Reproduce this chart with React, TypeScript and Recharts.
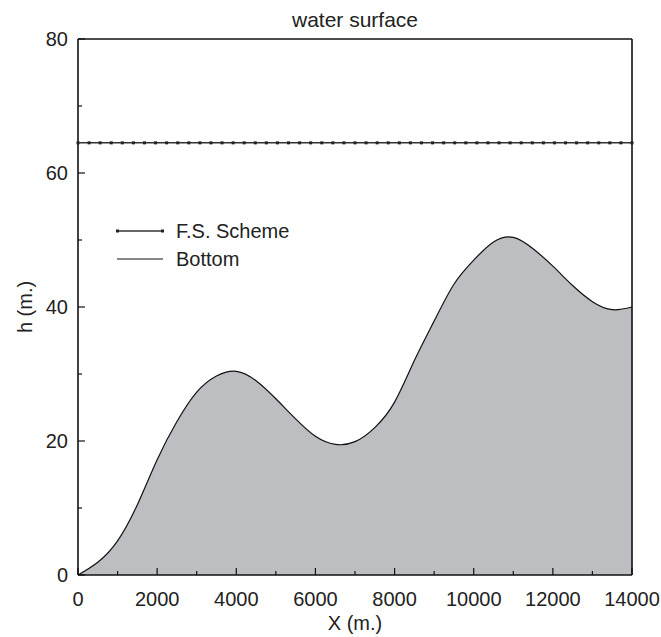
import React from 'react';
import { ComposedChart, Area, Line, XAxis, YAxis, Legend, Label } from 'recharts';

const FONT = '"Liberation Sans", Arial, Helvetica, sans-serif';
const INK = '#222';

// free surface computed by the scheme (one node every 280 m)
const surfaceX = [
  0, 280, 560, 840, 1120, 1400, 1680, 1960, 2240, 2520, 2800, 3080, 3360, 3640, 3920, 4200, 4480,
  4760, 5040, 5320, 5600, 5880, 6160, 6440, 6720, 7000, 7280, 7560, 7840, 8120, 8400, 8680, 8960,
  9240, 9520, 9800, 10080, 10360, 10640, 10920, 11200, 11480, 11760, 12040, 12320, 12600, 12880,
  13160, 13440, 13720, 14000,
];
const surfaceH = [
  64.5, 64.5, 64.5, 64.5, 64.5, 64.5, 64.5, 64.5, 64.5, 64.5, 64.5, 64.5, 64.5, 64.5, 64.5, 64.5, 64.5,
  64.5, 64.5, 64.5, 64.5, 64.5, 64.5, 64.5, 64.5, 64.5, 64.5, 64.5, 64.5, 64.5, 64.5, 64.5, 64.5,
  64.5, 64.5, 64.5, 64.5, 64.5, 64.5, 64.5, 64.5, 64.5, 64.5, 64.5, 64.5, 64.5, 64.5,
  64.5, 64.5, 64.5, 64.5,
];

// bed profile
const bottomX = [
  0, 500, 1000, 1500, 2000, 2500, 3000, 3500, 4000, 4500, 5000, 5500, 6000, 6500, 7000,
  7500, 8000, 8500, 9000, 9500, 10000, 10500, 11000, 11500, 12000, 12500, 13000, 13500, 14000,
];
const bottomH = [
  0, 1.9, 5.1, 10.5, 17.2, 22.9, 27.3, 29.7, 30.4, 29.0, 26.3, 23.3, 20.7, 19.5, 19.9,
  22.0, 25.8, 32.0, 37.9, 43.4, 47.0, 49.7, 50.4, 48.7, 46.1, 43.2, 40.8, 39.6, 40.0,
];

const xTicks = [0, 1000, 2000, 3000, 4000, 5000, 6000, 7000, 8000, 9000, 10000, 11000, 12000, 13000, 14000];
const yTicks = [0, 10, 20, 30, 40, 50, 60, 70, 80];

const surfaceData = surfaceX.map((x, i) => ({ x, h: surfaceH[i] }));
const bottomData = bottomX.map((x, i) => ({ x, h: bottomH[i] }));

type Side = 'bottom' | 'top' | 'left' | 'right';

// inward ticks, long for labelled values, short for the minor ones
const makeTick = (side: Side, step: number, withLabel: boolean) => (props: any) => {
  const { x, y, payload } = props;
  const v = payload.value;
  const major = v % step === 0;
  const len = major ? 7 : 4;
  let line;
  let label = null;
  if (side === 'bottom') {
    line = <line x1={x} y1={y} x2={x} y2={y - len} stroke="#111" strokeWidth={1.2} />;
    if (withLabel && major)
      label = <text x={x} y={y + 31} textAnchor="middle" fontSize={20} fontFamily={FONT} fill={INK}>{v}</text>;
  } else if (side === 'top') {
    line = <line x1={x} y1={y} x2={x} y2={y + len} stroke="#111" strokeWidth={1.2} />;
  } else if (side === 'left') {
    line = <line x1={x} y1={y} x2={x + len} y2={y} stroke="#111" strokeWidth={1.2} />;
    if (withLabel && major)
      label = <text x={x - 10} y={y} dy="0.36em" textAnchor="end" fontSize={20} fontFamily={FONT} fill={INK}>{v}</text>;
  } else {
    line = <line x1={x} y1={y} x2={x - len} y2={y} stroke="#111" strokeWidth={1.2} />;
  }
  return <g>{line}{label}</g>;
};

const SurfaceDot = (props: any) => {
  const { cx, cy } = props;
  return <rect x={cx - 1.5} y={cy - 1.5} width={3} height={3} fill="#222" />;
};

const renderLegend = () => (
  <div style={{ fontFamily: FONT, fontSize: 20, color: INK, lineHeight: '28px' }}>
    <div style={{ display: 'flex', alignItems: 'center', height: 28 }}>
      <svg width={48} height={8} style={{ display: 'block' }}>
        <line x1={1} y1={4} x2={47} y2={4} stroke="#333" strokeWidth={1.5} />
        <rect x={0} y={2.5} width={3} height={3} fill="#222" />
        <rect x={45} y={2.5} width={3} height={3} fill="#222" />
      </svg>
      <span style={{ marginLeft: 12 }}>F.S. Scheme</span>
    </div>
    <div style={{ display: 'flex', alignItems: 'center', height: 28 }}>
      <svg width={48} height={8} style={{ display: 'block' }}>
        <line x1={1} y1={4} x2={47} y2={4} stroke="#111" strokeWidth={1.2} />
      </svg>
      <span style={{ marginLeft: 12 }}>Bottom</span>
    </div>
  </div>
);

const axisStroke = { stroke: '#111', strokeWidth: 1.6 };

export default function App() {
  return (
    <div style={{ position: 'absolute', left: 0, top: 0, background: '#fff' }}>
      <ComposedChart width={661} height={637} margin={{ top: 0, right: 0, bottom: 0, left: 0 }}>
        <XAxis
          dataKey="x"
          type="number"
          domain={[0, 14000]}
          ticks={xTicks}
          height={62}
          tickSize={0}
          tickMargin={0}
          tickLine={false}
          axisLine={axisStroke}
          tick={makeTick('bottom', 2000, true)}
          interval={0}
        >
          <Label value="X (m.)" position="insideBottom" offset={7} fontSize={20} fontFamily={FONT} fill={INK} />
        </XAxis>
        <XAxis
          xAxisId="top"
          orientation="top"
          dataKey="x"
          type="number"
          domain={[0, 14000]}
          ticks={xTicks}
          height={39}
          tickSize={0}
          tickMargin={0}
          tickLine={false}
          axisLine={axisStroke}
          tick={makeTick('top', 2000, false)}
          interval={0}
        >
          <Label value="water surface" position="insideTop" offset={12} fontSize={21} fontFamily={FONT} fill={INK} />
        </XAxis>
        <YAxis
          type="number"
          domain={[0, 80]}
          ticks={yTicks}
          width={78}
          tickSize={0}
          tickMargin={0}
          tickLine={false}
          axisLine={axisStroke}
          tick={makeTick('left', 20, true)}
          interval={0}
        >
          <Label
            value="h (m.)"
            angle={-90}
            position="insideLeft"
            offset={25}
            fontSize={20}
            fontFamily={FONT}
            fill={INK}
            style={{ textAnchor: 'middle' }}
          />
        </YAxis>
        <YAxis
          yAxisId="right"
          orientation="right"
          type="number"
          domain={[0, 80]}
          ticks={yTicks}
          width={29}
          tickSize={0}
          tickMargin={0}
          tickLine={false}
          axisLine={axisStroke}
          tick={makeTick('right', 20, false)}
          interval={0}
        />
        <Legend
          content={renderLegend}
          layout="vertical"
          align="center"
          verticalAlign="middle"
          wrapperStyle={{ left: 116, top: 217, width: 'auto' }}
        />
        <Area
          data={bottomData}
          dataKey="h"
          type="natural"
          fill="#bdbec2"
          fillOpacity={1}
          stroke="#111"
          strokeWidth={1.2}
          isAnimationActive={false}
          legendType="none"
        />
        <Line
          data={surfaceData}
          dataKey="h"
          type="linear"
          stroke="#333"
          strokeWidth={1.5}
          dot={<SurfaceDot />}
          activeDot={false}
          isAnimationActive={false}
          legendType="none"
        />
      </ComposedChart>
    </div>
  );
}
